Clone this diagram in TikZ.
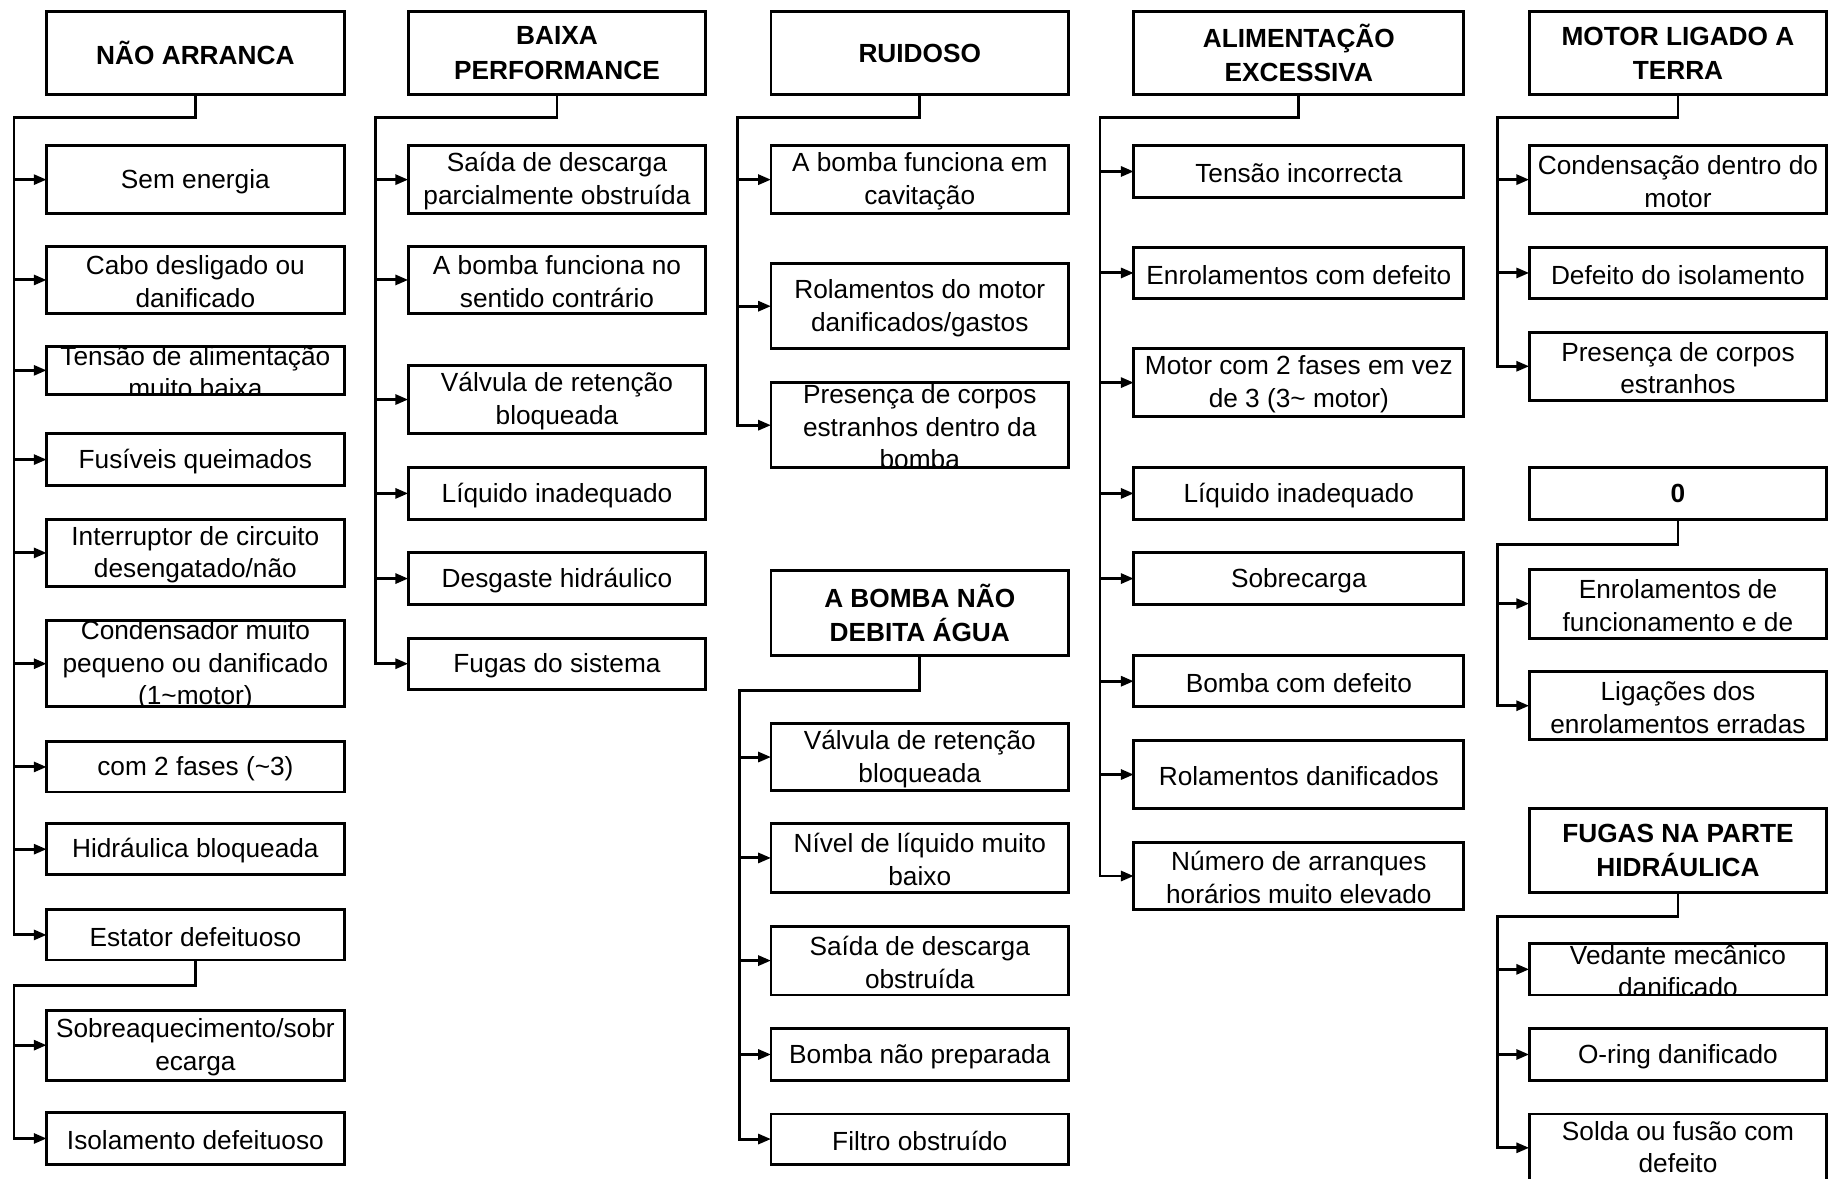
\documentclass[tikz,border=0pt]{standalone}
\usepackage{fontspec}
\setmainfont{Liberation Sans}
\usetikzlibrary{arrows.meta,fit}
\newcommand\lblfont{\fontsize{22.5}{28}\selectfont}
\newcommand\hdrfont{\fontsize{22.5}{29.5}\selectfont\bfseries}
\newcommand\cbx[7][lbl]{%
  \begin{scope}
    \clip (#3,#4) rectangle (#5,#6);
    \node[#1] (#2t) at ({(#3+#5)/2},{(#4+#6)/2}) {#7};
  \end{scope}
  \node[box, fit={(#3,#4) (#5,#6)}] (#2) {};
}
\begin{document}
\begin{tikzpicture}[x=1pt, y=-1pt,
  box/.style={draw, line width=2.5pt, inner sep=0pt, outer sep=0pt},
  lbl/.style={align=center, font=\lblfont, inner sep=0pt, yshift=-1.5pt},
  hdr/.style={align=center, font=\hdrfont, inner sep=0pt},
  link/.style={line width=2.5pt, line cap=rect, line join=miter},
  arr/.style={line width=2.5pt, line cap=rect, -{Triangle[length=11pt,width=8.5pt]}}]
\useasboundingbox[fill=white] (0,0) rectangle (1568,1010);

% ---------- column 1 ----------
\cbx[hdr]{h1}{40}{10}{295}{81}{NÃO ARRANCA}
\cbx{a1}{40}{125}{295}{183}{Sem energia}
\cbx{a2}{40}{211}{295}{269}{Cabo desligado ou\\danificado}
\cbx{a3}{40}{297}{295}{338}{Tensão de alimentação\\muito baixa}
\cbx{a4}{40}{372}{295}{416}{Fusíveis queimados}
\cbx{a5}{40}{445}{295}{503}{Interruptor de circuito\\desengatado/não}
\cbx{a6}{40}{532}{295}{606}{Condensador muito\\pequeno ou danificado\\(1\textasciitilde{}motor)}
\cbx{a7}{40}{636}{295}{679}{com 2 fases (\textasciitilde{}3)}
\cbx{a8}{40}{706}{295}{750}{Hidráulica bloqueada}
\cbx{a9}{40}{780}{295}{823}{Estator defeituoso}
\cbx{a10}{40}{866}{295}{926}{Sobreaquecimento/sobr\\ecarga}
\cbx{a11}{40}{954}{295}{998}{Isolamento defeituoso}

\coordinate (t1) at (12,101);
\draw[link] (h1.south) |- (t1) -- (t1 |- a9.west);
\foreach \n in {a1,a2,a3,a4,a5,a6,a7,a8,a9}
  \draw[arr] (t1 |- \n.west) -- (\n.west);
\coordinate (t1b) at (12,845);
\draw[link] (a9.south) |- (t1b) -- (t1b |- a11.west);
\foreach \n in {a10,a11}
  \draw[arr] (t1b |- \n.west) -- (\n.west);

% ---------- column 2 ----------
\cbx[hdr]{h2}{350}{10}{605}{81}{BAIXA\\PERFORMANCE}
\cbx{b1}{350}{125}{605}{183}{Saída de descarga\\parcialmente obstruída}
\cbx{b2}{350}{211}{605}{269}{A bomba funciona no\\sentido contrário}
\cbx{b3}{350}{313}{605}{372}{Válvula de retenção\\bloqueada}
\cbx{b4}{350}{401}{605}{445}{Líquido inadequado}
\cbx{b5}{350}{474}{605}{518}{Desgaste hidráulico}
\cbx{b6}{350}{547}{605}{591}{Fugas do sistema}

\coordinate (t2) at (322,101);
\draw[link] (h2.south) |- (t2) -- (t2 |- b6.west);
\foreach \n in {b1,b2,b3,b4,b5,b6}
  \draw[arr] (t2 |- \n.west) -- (\n.west);

% ---------- column 3 ----------
\cbx[hdr]{h3}{661}{10}{916}{81}{RUIDOSO}
\cbx{c1}{661}{125}{916}{183}{A bomba funciona em\\cavitação}
\cbx{c2}{661}{226}{916}{299}{Rolamentos do motor\\danificados/gastos}
\cbx{c3}{661}{328}{916}{401}{Presença de corpos\\estranhos dentro da\\bomba}

\coordinate (t3) at (632,101);
\draw[link] (h3.south) |- (t3) -- (t3 |- c3.west);
\foreach \n in {c1,c2,c3}
  \draw[arr] (t3 |- \n.west) -- (\n.west);

\cbx[hdr]{h4}{661}{489}{916}{562}{A BOMBA NÃO\\DEBITA ÁGUA}
\cbx{d1}{661}{620}{916}{678}{Válvula de retenção\\bloqueada}
\cbx{d2}{661}{706}{916}{765}{Nível de líquido muito\\baixo}
\cbx{d3}{661}{794}{916}{853}{Saída de descarga\\obstruída}
\cbx{d4}{661}{882}{916}{926}{Bomba não preparada}
\cbx{d5}{661}{955}{916}{998}{Filtro obstruído}

\coordinate (t4) at (634,592);
\draw[link] (h4.south) |- (t4) -- (t4 |- d5.west);
\foreach \n in {d1,d2,d3,d4,d5}
  \draw[arr] (t4 |- \n.west) -- (\n.west);

% ---------- column 4 ----------
\cbx[hdr]{h5}{972}{10}{1255}{81}{ALIMENTAÇÃO\\EXCESSIVA}
\cbx{e1}{972}{125}{1255}{169}{Tensão incorrecta}
\cbx{e2}{972}{212}{1255}{256}{Enrolamentos com defeito}
\cbx{e3}{972}{299}{1255}{357}{Motor com 2 fases em vez\\de 3 (3\textasciitilde{} motor)}
\cbx{e4}{972}{401}{1255}{445}{Líquido inadequado}
\cbx{e5}{972}{474}{1255}{518}{Sobrecarga}
\cbx{e6}{972}{562}{1255}{606}{Bomba com defeito}
\cbx{e7}{972}{635}{1255}{693}{Rolamentos danificados}
\cbx{e8}{972}{722}{1255}{780}{Número de arranques\\horários muito elevado}

\coordinate (t5) at (943,101);
\draw[link] (h5.south) |- (t5) -- (t5 |- e8.west);
\foreach \n in {e1,e2,e3,e4,e5,e6,e7,e8}
  \draw[arr] (t5 |- \n.west) -- (\n.west);

% ---------- column 5 ----------
\cbx[hdr]{h6}{1311}{10}{1566}{81}{MOTOR LIGADO A\\TERRA}
\cbx{f1}{1311}{125}{1566}{183}{Condensação dentro do\\motor}
\cbx{f2}{1311}{212}{1566}{256}{Defeito do isolamento}
\cbx{f3}{1311}{285}{1566}{343}{Presença de corpos\\estranhos}

\coordinate (t6) at (1284,101);
\draw[link] (h6.south) |- (t6) -- (t6 |- f3.west);
\foreach \n in {f1,f2,f3}
  \draw[arr] (t6 |- \n.west) -- (\n.west);

\cbx[hdr]{h7}{1311}{401}{1566}{445}{0}
\cbx{g1}{1311}{488}{1566}{547}{Enrolamentos de\\funcionamento e de}
\cbx{g2}{1311}{576}{1566}{634}{Ligações dos\\enrolamentos erradas}

\coordinate (t7) at (1284,467);
\draw[link] (h7.south) |- (t7) -- (t7 |- g2.west);
\foreach \n in {g1,g2}
  \draw[arr] (t7 |- \n.west) -- (\n.west);

\cbx[hdr]{h8}{1311}{693}{1566}{765}{FUGAS NA PARTE\\HIDRÁULICA}
\cbx{k1}{1311}{809}{1566}{853}{Vedante mecânico\\danificado}
\cbx{k2}{1311}{882}{1566}{926}{O-ring danificado}
\cbx[lbl,yshift=2pt]{k3}{1311}{955}{1566}{1013}{Solda ou fusão com\\defeito}

\coordinate (t8) at (1284,786);
\draw[link] (h8.south) |- (t8) -- (t8 |- k3.west);
\foreach \n in {k1,k2,k3}
  \draw[arr] (t8 |- \n.west) -- (\n.west);
\end{tikzpicture}
\end{document}
